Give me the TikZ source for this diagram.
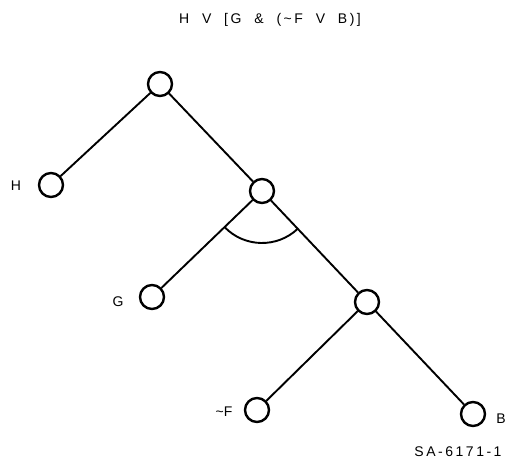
\documentclass[tikz,border=0pt]{standalone}
\usepackage{fontspec}
\setmainfont{Liberation Sans}
\newfontfamily\wide[LetterSpace=18]{Liberation Sans}
\begin{document}
\begin{tikzpicture}[x=1pt,y=-1pt,
  vtx/.style={circle,draw,line width=2.4pt,minimum size=24pt,inner sep=0pt},
  lab/.style={inner sep=0pt,font=\fontsize{14}{16}\selectfont},
  edge/.style={line width=1.9pt}]
\useasboundingbox (0,0) rectangle (510,461);
\node[inner sep=0pt,font=\wide\fontsize{14}{16}\selectfont] (title) at (270,20) {H\ \ V\ \ [G\ \ \&\ \ (\textasciitilde F\ \ V\ \ B)]};
\node[vtx] (r) at (160,84) {};
\node[vtx] (h) at (51,185) {};
\node[vtx] (m) at (262,191) {};
\node[vtx] (g) at (152,297) {};
\node[vtx] (l) at (367,302) {};
\node[vtx] (f) at (257,410) {};
\node[vtx] (b) at (473,414) {};
\node[lab] (hl) at (16,186) {H};
\node[lab] (gl) at (118,302) {G};
\node[lab] (fl) at (224,412) {\textasciitilde F};
\node[lab] (bl) at (501,419) {B};
\node[inner sep=0pt,font=\wide\fontsize{14}{16}\selectfont] (sa) at (458,452) {SA-6171-1};
\draw[edge] (r) -- (h);
\draw[edge] (r) -- (m);
\draw[edge] (m) -- (g);
\draw[edge] (m) -- (l);
\draw[edge] (l) -- (f);
\draw[edge] (l) -- (b);
\draw[edge] ([shift={(136:52)}]m.center) arc[start angle=136, end angle=46.5, radius=52];
\end{tikzpicture}
\end{document}
